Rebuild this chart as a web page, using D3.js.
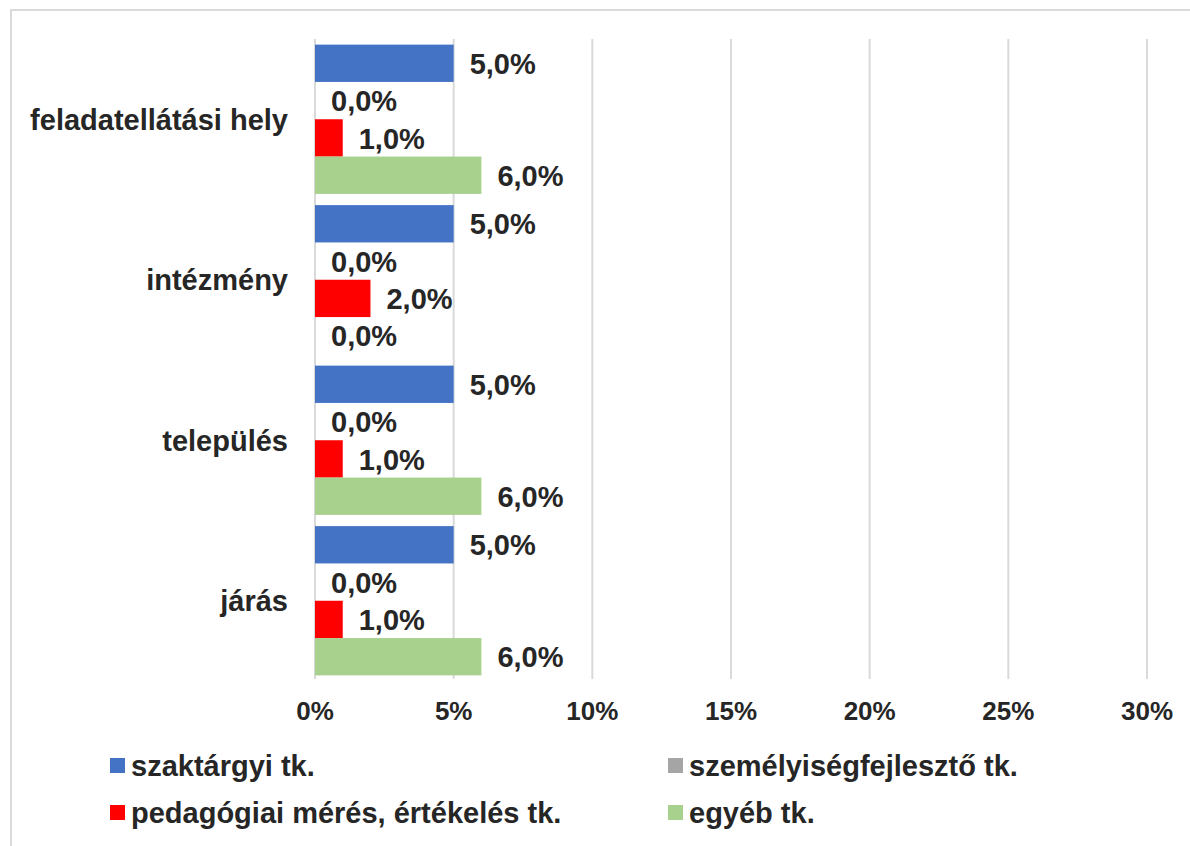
<!DOCTYPE html>
<html>
<head>
<meta charset="utf-8">
<script src="https://cdn.jsdelivr.net/npm/d3@7"></script>
<style>
  body { margin: 0; background: #fff; }
  svg { display: block; font-family: "Liberation Sans", Arial, sans-serif; font-weight: bold; }
</style>
</head>
<body>
<svg width="1190" height="846"></svg>
<script>
// adatok
const categories = ["feladatellátási hely", "intézmény", "település", "járás"];
const seriesNames = ["szaktárgyi tk.", "személyiségfejlesztő tk.", "pedagógiai mérés, értékelés tk.", "egyéb tk."];
const seriesColors = ["#4472C4", "#A5A5A5", "#FF0000", "#A9D18E"];
const szaktargyi = [0.05, 0.05, 0.05, 0.05];
const szemelyiseg = [0, 0, 0, 0];
const pedagogiai = [0.01, 0.02, 0.01, 0.01];
const egyeb = [0.06, 0, 0.06, 0.06];
const xTicks = [0, 0.05, 0.10, 0.15, 0.20, 0.25, 0.30];

const values = [szaktargyi, szemelyiseg, pedagogiai, egyeb];
const rows = categories.map((c, i) => ({
  cat: c,
  vals: values.map((s, j) => ({ key: seriesNames[j], color: seriesColors[j], v: s[i] }))
}));

const svg = d3.select("svg");
const textColor = "#262626";
const gridColor = "#D9D9D9";

// keret
svg.append("rect")
  .attr("x", 11).attr("y", 10)
  .attr("width", 1190).attr("height", 900)
  .attr("fill", "none")
  .attr("stroke", gridColor)
  .attr("stroke-width", 2);

const x = d3.scaleLinear().domain([0, 0.30]).range([315, 1147]);
const y = d3.scaleBand().domain(categories).range([39, 681])
  .paddingInner(0.07).paddingOuter(0.035);
const yInner = d3.scaleBand().domain(seriesNames).range([0, y.bandwidth()]);

// rácsvonalak
svg.append("g").selectAll("line")
  .data(xTicks)
  .join("line")
  .attr("x1", d => x(d)).attr("x2", d => x(d))
  .attr("y1", 39).attr("y2", 679)
  .attr("stroke", gridColor)
  .attr("stroke-width", 2);

// tengely feliratok
svg.append("g").selectAll("text")
  .data(xTicks)
  .join("text")
  .attr("x", d => x(d))
  .attr("y", 720)
  .attr("text-anchor", "middle")
  .attr("font-size", 26)
  .attr("fill", textColor)
  .text(d => d3.format(".0%")(d));

// oszlopok
const group = svg.append("g").selectAll("g")
  .data(rows)
  .join("g")
  .attr("transform", d => `translate(0,${y(d.cat)})`);

group.selectAll("rect")
  .data(d => d.vals)
  .join("rect")
  .attr("x", x(0))
  .attr("y", d => yInner(d.key))
  .attr("width", d => x(d.v) - x(0))
  .attr("height", yInner.bandwidth())
  .attr("fill", d => d.color);

group.selectAll("text")
  .data(d => d.vals)
  .join("text")
  .attr("x", d => x(d.v) + 16)
  .attr("y", d => yInner(d.key) + yInner.bandwidth() / 2)
  .attr("dy", "0.37em")
  .attr("font-size", 29)
  .attr("fill", textColor)
  .text(d => (d.v * 100).toFixed(1).replace(".", ",") + "%");

// kategória feliratok
svg.append("g").selectAll("text")
  .data(categories)
  .join("text")
  .attr("x", 288)
  .attr("y", d => y(d) + y.bandwidth() / 2)
  .attr("dy", "0.36em")
  .attr("text-anchor", "end")
  .attr("font-size", 29)
  .attr("fill", textColor)
  .text(d => d);

// jelmagyarázat
const legendPos = [[110, 758], [668, 758], [110, 805], [668, 805]];
const legend = svg.append("g").selectAll("g")
  .data(seriesNames)
  .join("g")
  .attr("transform", (d, i) => `translate(${legendPos[i][0]},${legendPos[i][1]})`);

legend.append("rect")
  .attr("width", 15).attr("height", 15)
  .attr("fill", (d, i) => seriesColors[i]);

legend.append("text")
  .attr("x", 21)
  .attr("y", 7.5)
  .attr("dy", "0.36em")
  .attr("font-size", 29)
  .attr("fill", textColor)
  .text(d => d);
</script>
</body>
</html>
